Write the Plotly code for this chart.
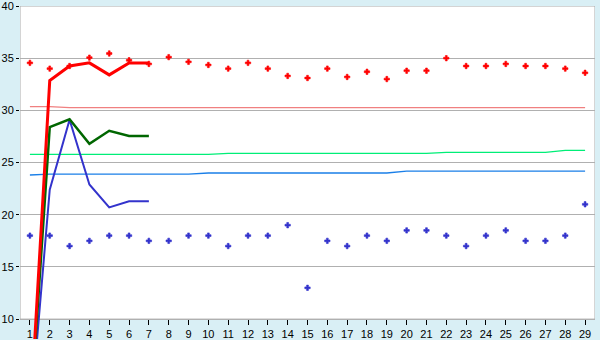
import plotly.graph_objects as go

# ---- data ----
x_cats = list(range(1, 30))
x_short = [1, 2, 3, 4, 5, 6, 7]

red_points = [34.55, 34.0, 34.25, 35.05, 35.45, 34.8, 34.45, 35.1, 34.65, 34.35,
              34.0, 34.55, 34.0, 33.3, 33.1, 34.0, 33.2, 33.7, 33.0, 33.8,
              33.8, 35.0, 34.25, 34.25, 34.45, 34.25, 34.25, 34.0, 33.6]
blue_points = [18, 18, 17, 17.5, 18, 18, 17.5, 17.5, 18, 18,
               17, 18, 18, 19, 13, 17.5, 17, 18, 17.5, 18.5,
               18.5, 18, 17, 18, 18.5, 17.5, 17.5, 18, 21]

red_line = [0, 32.85, 34.25, 34.55, 33.4, 34.55, 34.55]
green_line = [0, 28.4, 29.15, 26.8, 28.05, 27.55, 27.55]
blue_line = [0, 22.4, 29.1, 22.9, 20.7, 21.3, 21.3]

pink_level = [30.35, 30.35, 30.26, 30.26, 30.26, 30.26, 30.26, 30.26, 30.26, 30.26,
              30.26, 30.26, 30.26, 30.26, 30.26, 30.26, 30.26, 30.26, 30.26, 30.26,
              30.26, 30.26, 30.26, 30.26, 30.26, 30.26, 30.26, 30.26, 30.26]
green_level = [25.78, 25.78, 25.78, 25.78, 25.78, 25.78, 25.78, 25.78, 25.78, 25.78,
               25.88, 25.88, 25.88, 25.88, 25.88, 25.88, 25.88, 25.88, 25.88, 25.88,
               25.88, 25.97, 25.97, 25.97, 25.97, 25.97, 25.97, 26.16, 26.16]
blue_level = [23.81, 23.9, 23.9, 23.9, 23.9, 23.9, 23.9, 23.9, 23.9, 24.0,
              24.0, 24.0, 24.0, 24.0, 24.0, 24.0, 24.0, 24.0, 24.0, 24.17,
              24.17, 24.17, 24.17, 24.17, 24.17, 24.17, 24.17, 24.17, 24.17]

y_ticks = [10, 15, 20, 25, 30, 35, 40]

BG = "#d9eff5"
GRID = "#b0b0b0"
FONT = dict(family="Liberation Sans, Arial, sans-serif", size=11, color="#000000")

fig = go.Figure()

# thin level lines
fig.add_trace(go.Scatter(x=x_cats, y=pink_level, mode="lines",
                         line=dict(color="#f08080", width=1.3)))
fig.add_trace(go.Scatter(x=x_cats, y=green_level, mode="lines",
                         line=dict(color="#00ee77", width=1.3)))
fig.add_trace(go.Scatter(x=x_cats, y=blue_level, mode="lines",
                         line=dict(color="#1a7fe8", width=1.3)))

# thick lines
fig.add_trace(go.Scatter(x=x_short, y=blue_line, mode="lines",
                         line=dict(color="#3333cc", width=2)))
fig.add_trace(go.Scatter(x=x_short, y=green_line, mode="lines",
                         line=dict(color="#006600", width=2.5)))
fig.add_trace(go.Scatter(x=x_short, y=red_line, mode="lines",
                         line=dict(color="#ff0000", width=3)))

# point series
fig.add_trace(go.Scatter(x=x_cats, y=red_points, mode="markers",
                         marker=dict(symbol="cross", size=4.5, color="#ff0000",
                                     line=dict(color="#ff0000", width=0.6))))
fig.add_trace(go.Scatter(x=x_cats, y=blue_points, mode="markers",
                         marker=dict(symbol="cross", size=4.5, color="#3333cc",
                                     line=dict(color="#3333cc", width=0.6))))

H, T, B = 340, 5, 0
plot_h = H - T - B
px_per_unit = 10.5
y_min = 40 - plot_h / px_per_unit
x_axis_pos = (10 - y_min) / (40 - y_min)

fig.add_shape(type="rect", xref="x", yref="y", x0=0.5, x1=29.5, y0=10, y1=40,
              fillcolor="#ffffff", line=dict(color="#aaaaaa", width=1), layer="below")

fig.update_layout(
    width=600, height=H,
    margin=dict(l=20, r=5, t=T, b=B, pad=0),
    paper_bgcolor=BG, plot_bgcolor=BG,
    showlegend=False,
    font=FONT,
    xaxis=dict(range=[0.5, 29.5], tickmode="array", tickvals=x_cats,
               ticktext=[str(v) for v in x_cats],
               ticks="outside", ticklen=5, tickcolor="#000000", tickwidth=1,
               showgrid=False, zeroline=False, showline=False,
               anchor="free", position=x_axis_pos, tickfont=FONT,
               ticklabeloverflow="allow"),
    yaxis=dict(range=[y_min, 40], tickmode="array", tickvals=y_ticks,
               ticks="outside", ticklen=3, tickcolor="#000000", tickwidth=1,
               showgrid=True, gridcolor=GRID, gridwidth=1,
               zeroline=False, showline=False, tickfont=FONT,
               ticklabeloverflow="allow"),
)

fig.write_html("out.html")
